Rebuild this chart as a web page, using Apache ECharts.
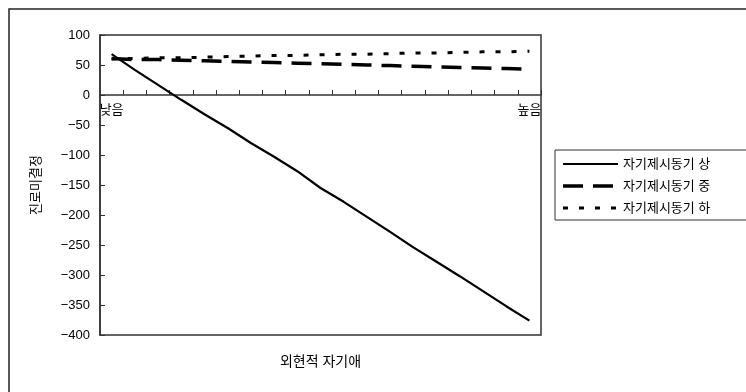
<!DOCTYPE html>
<html>
<head>
<meta charset="utf-8">
<script src="https://cdn.jsdelivr.net/npm/echarts@6/dist/echarts.min.js"></script>
<style>
  html, body { margin: 0; padding: 0; background: #fff; }
  #chart { width: 746px; height: 392px; }
</style>
</head>
<body>
<div id="chart"></div>
<script>
// Category axis: 19 levels of 외현적 자기애, only the ends are labelled
const xLabels = ['낮음', '', '', '', '', '', '', '', '', '', '', '', '', '', '', '', '', '', '높음'];

// 진로미결정 for each 자기제시동기 group
const highGroup = [68, 42, 17, -8, -32, -55, -80, -103, -127, -155, -178, -203, -228, -254, -278, -302, -327, -352, -376];
const midGroup  = [61, 59, 59, 58, 57, 56, 55, 54, 53, 52, 51, 50, 49, 48, 47, 46, 45, 44, 43];
const lowGroup  = [60, 61, 62, 62, 63, 64, 65, 66, 66, 67, 68, 68, 69, 70, 70, 71, 72, 72, 73];

const seriesNames = ['자기제시동기 상', '자기제시동기 중', '자기제시동기 하'];
const yTicks = { min: -400, max: 100, interval: 50 };

const FONT = '"Liberation Sans", "Noto Sans CJK KR", sans-serif';

// plot box
const G = { left: 100, top: 35, width: 441, height: 300 };

// line styles shared by the series and their legend samples
const styles = [
  { color: '#000', width: 2.2, type: 'solid' },
  { color: '#000', width: 3.5, type: [20, 10], cap: 'butt' },
  { color: '#000', width: 3, type: [5, 11], cap: 'butt' }
];

function staticGraphics() {
  const out = [
    {
      id: 'frame', type: 'rect',
      shape: { x: 9, y: 9, width: 800, height: 420 },
      style: { fill: 'none', stroke: '#222', lineWidth: 1.5 },
      silent: true
    },
    {
      id: 'xTitle', type: 'text',
      x: G.left + G.width / 2, y: 362,
      style: { text: '외현적 자기애', fontFamily: FONT, fontSize: 14, fill: '#000', align: 'center', verticalAlign: 'middle' },
      silent: true
    }
  ];
  // hand-drawn legend box (text runs past the right edge)
  const lx = 555, ly = 150, rowH = 22;
  out.push({
    id: 'legendBox', type: 'rect',
    shape: { x: lx, y: ly, width: 240, height: 70 },
    style: { fill: '#fff', stroke: '#333', lineWidth: 1 },
    silent: true
  });
  seriesNames.forEach((name, i) => {
    const cy = ly + 14 + i * rowH;
    out.push({
      id: 'legendLine' + i, type: 'line',
      shape: { x1: lx + 8, y1: cy, x2: lx + 63, y2: cy },
      style: {
        stroke: '#000', lineWidth: styles[i].width,
        lineDash: Array.isArray(styles[i].type) ? styles[i].type : null,
        lineCap: 'butt'
      },
      silent: true
    });
    out.push({
      id: 'legendText' + i, type: 'text',
      x: lx + 68, y: cy,
      style: { text: name, fontFamily: FONT, fontSize: 13, fill: '#000', verticalAlign: 'middle' },
      silent: true
    });
  });
  return out;
}

const chart = echarts.init(document.getElementById('chart'), null, { renderer: 'canvas' });

chart.setOption({
  animation: false,
  backgroundColor: '#fff',
  textStyle: { fontFamily: FONT, color: '#000' },
  graphic: staticGraphics(),
  grid: {
    left: G.left, top: G.top, width: G.width, height: G.height,
    show: true, borderColor: '#333', borderWidth: 1.5,
    containLabel: false,
    outerBoundsMode: 'none'
  },
  xAxis: {
    type: 'category',
    data: xLabels,
    boundaryGap: true,
    axisLine: { onZero: true, lineStyle: { color: '#333', width: 1.5 } },
    axisTick: { show: true, inside: true, length: 5, interval: 0, lineStyle: { color: '#333', width: 1 } },
    axisLabel: { show: false },
    splitLine: { show: false }
  },
  yAxis: {
    type: 'value',
    min: yTicks.min, max: yTicks.max, interval: yTicks.interval,
    name: '진로미결정',
    nameLocation: 'middle',
    nameGap: 57,
    nameRotate: 90,
    nameTextStyle: { fontFamily: FONT, fontSize: 13, color: '#000' },
    axisLine: { show: true, lineStyle: { color: '#333', width: 1.5 } },
    axisTick: { show: true, inside: true, length: 5, lineStyle: { color: '#333', width: 1 } },
    axisLabel: {
      fontSize: 13, color: '#000', margin: 10, fontFamily: FONT,
      formatter: v => String(v).replace('-', '\u2212')
    },
    splitLine: { show: false }
  },
  series: [
    { name: seriesNames[0], type: 'line', data: highGroup, symbol: 'none', lineStyle: styles[0] },
    { name: seriesNames[1], type: 'line', data: midGroup, symbol: 'none', lineStyle: styles[1] },
    { name: seriesNames[2], type: 'line', data: lowGroup, symbol: 'none', lineStyle: styles[2] }
  ]
});

// category labels hang just below the zero line, placed through the axes' own scales
const catLabels = [];
xLabels.forEach((lab, i) => {
  if (!lab) return;
  const p = chart.convertToPixel({ gridIndex: 0 }, [i, 0]);
  catLabels.push({
    id: 'catLabel' + i, type: 'text',
    x: p[0], y: p[1] + 9, rotation: 0,
    style: { text: lab, fontFamily: FONT, fontSize: 13, fill: '#000', align: 'center', verticalAlign: 'top' },
    silent: true
  });
});
chart.setOption({ graphic: staticGraphics().concat(catLabels) });
</script>
</body>
</html>
